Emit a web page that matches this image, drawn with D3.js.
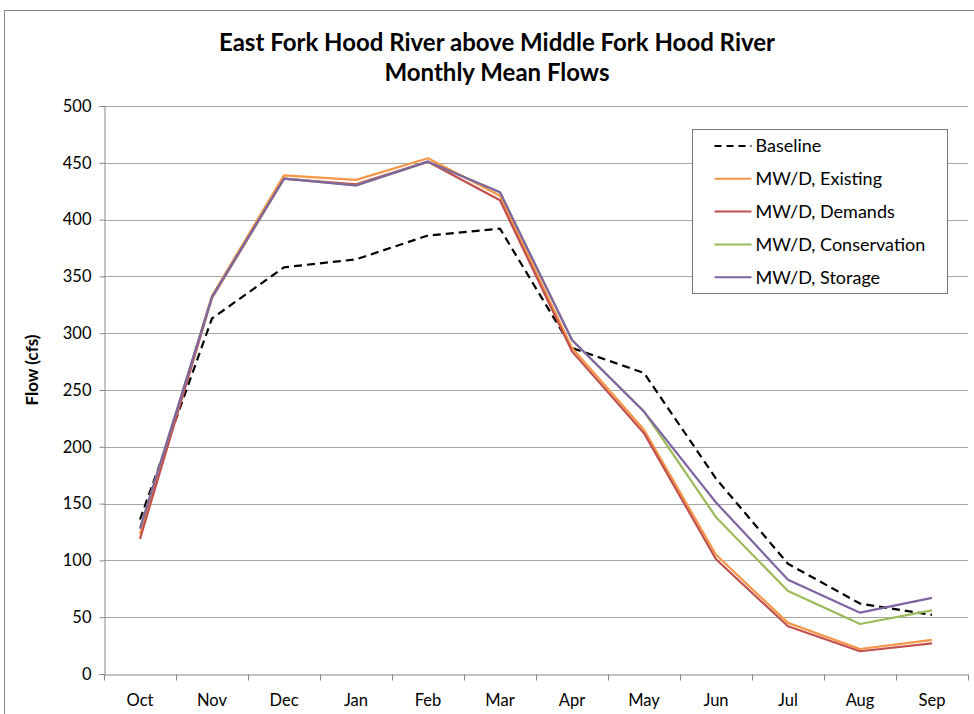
<!DOCTYPE html>
<html>
<head>
<meta charset="utf-8">
<script src="https://cdn.jsdelivr.net/npm/d3@7"></script>
<style>
  body { margin: 0; background: #fff; }
  text { font-family: Lato, "Open Sans", sans-serif; fill: #000; }
</style>
</head>
<body>
<svg width="974" height="714"></svg>
<script>
// data
var months = ["Oct","Nov","Dec","Jan","Feb","Mar","Apr","May","Jun","Jul","Aug","Sep"];
var baseline     = [136, 313, 358, 365, 386, 392, 287, 265, 172, 97, 62, 52];
var existing     = [123, 333, 439, 435, 454, 421, 287, 215, 105, 45, 22, 30];
var demands      = [119, 331, 436, 431, 451, 417, 284, 212, 101, 42, 20, 27];
var conservation = [128, 332, 436, 430, 451, 424, 294, 231, 138, 73, 44, 56];
var storage      = [128, 332, 436, 430, 451, 424, 294, 231, 151, 83, 54, 67];
var yTicks = [0, 50, 100, 150, 200, 250, 300, 350, 400, 450, 500];

var series = [
  {name: "Baseline", values: baseline, color: "#000", dash: "8,5", w: 2.2},
  {name: "MW/D, Existing", values: existing, color: "#F79646", w: 2.2},
  {name: "MW/D, Demands", values: demands, color: "#C0504D", w: 2.2},
  {name: "MW/D, Conservation", values: conservation, color: "#9BBB59", w: 2.2},
  {name: "MW/D, Storage", values: storage, color: "#8064A2", w: 2.2}
];

var margin = {top: 106, right: 6, bottom: 40, left: 104},
    width = 974 - margin.left - margin.right,
    height = 714 - margin.top - margin.bottom;

var svg = d3.select("svg");

// outer chart border
svg.append("rect")
  .attr("x", 4.5).attr("y", 10.5)
  .attr("width", 980).attr("height", 720)
  .attr("fill", "none").attr("stroke", "#888").attr("stroke-width", 1);

// title
svg.append("text")
  .attr("x", 497).attr("y", 51)
  .attr("text-anchor", "middle")
  .style("font-size", "24px").style("font-weight", "bold")
  .text("East Fork Hood River above Middle Fork Hood River");
svg.append("text")
  .attr("x", 497).attr("y", 81)
  .attr("text-anchor", "middle")
  .style("font-size", "24px").style("font-weight", "bold")
  .text("Monthly Mean Flows");

var g = svg.append("g")
  .attr("transform", "translate(" + margin.left + "," + margin.top + ")");

var x = d3.scaleBand().domain(months).range([0, width]);
var y = d3.scaleLinear().domain([0, 500]).range([height, 0]);

// gridlines
g.append("g")
  .selectAll("line")
  .data(yTicks.filter(function(d) { return d > 0; }))
  .enter().append("line")
  .attr("x1", 0).attr("x2", width)
  .attr("y1", function(d) { return Math.round(y(d)) + 0.5; })
  .attr("y2", function(d) { return Math.round(y(d)) + 0.5; })
  .attr("stroke", "#a6a6a6").attr("stroke-width", 1.2);

// y axis
var yAxis = g.append("g")
  .attr("transform", "translate(0.5,0)")
  .call(d3.axisLeft(y).tickValues(yTicks).tickSize(5).tickPadding(8));
yAxis.selectAll("text").style("font-size", "16.5px").style("font-family", "Lato, sans-serif");
yAxis.selectAll("line, path").attr("stroke", "#888");

// x axis
var xAxis = g.append("g")
  .attr("transform", "translate(0," + (height + 0.5) + ")")
  .call(d3.axisBottom(x).tickSize(0).tickPadding(20));
xAxis.select("path").attr("stroke", "#888");
xAxis.selectAll("text").style("font-size", "16.5px").style("font-family", "Lato, sans-serif");
xAxis.selectAll(".tick line").remove();
// band boundary ticks
xAxis.selectAll(".bnd")
  .data(d3.range(months.length + 1))
  .enter().append("line")
  .attr("x1", function(i) { return i * x.bandwidth() + 0.5; })
  .attr("x2", function(i) { return i * x.bandwidth() + 0.5; })
  .attr("y1", 0).attr("y2", 6)
  .attr("stroke", "#888");

// y axis title
svg.append("text")
  .attr("transform", "translate(38,370) rotate(-90)")
  .attr("text-anchor", "middle")
  .style("font-size", "17px").style("font-weight", "bold")
  .text("Flow (cfs)");

// lines
var line = d3.line()
  .x(function(d, i) { return x(months[i]) + x.bandwidth() / 2; })
  .y(function(d) { return y(d); });

g.selectAll(".series")
  .data(series)
  .enter().append("path")
  .attr("class", "series")
  .attr("d", function(s) { return line(s.values); })
  .attr("fill", "none")
  .attr("stroke", function(s) { return s.color; })
  .attr("stroke-width", function(s) { return s.w; })
  .attr("stroke-dasharray", function(s) { return s.dash || null; })
  .attr("stroke-linejoin", "round");

// legend
var legend = svg.append("g").attr("transform", "translate(692.5,129.5)");
legend.append("rect")
  .attr("width", 255).attr("height", 164)
  .attr("fill", "#fff").attr("stroke", "#777").attr("stroke-width", 1);
var item = legend.selectAll(".item")
  .data(series)
  .enter().append("g")
  .attr("transform", function(d, i) { return "translate(0," + (16.5 + i * 32.8) + ")"; });
item.append("line")
  .attr("x1", 22).attr("x2", 59)
  .attr("stroke", function(s) { return s.color; })
  .attr("stroke-width", function(s) { return s.dash ? 2.2 : 2; })
  .attr("stroke-dasharray", function(s) { return s.dash ? "7,5" : null; });
item.append("text")
  .attr("x", 63).attr("y", 0).attr("dy", "0.35em")
  .style("font-size", "18px")
  .text(function(s) { return s.name; });
</script>
</body>
</html>
